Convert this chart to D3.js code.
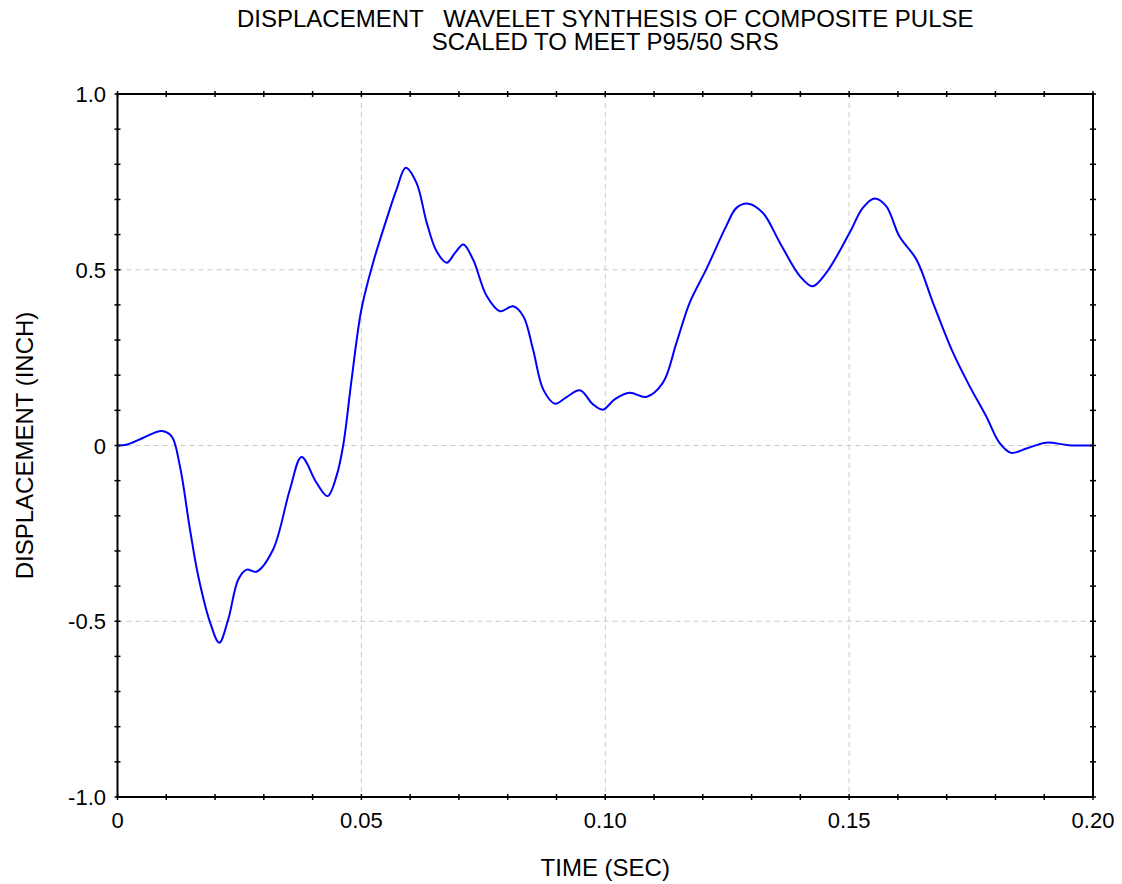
<!DOCTYPE html>
<html>
<head>
<meta charset="utf-8">
<script src="https://cdn.jsdelivr.net/npm/d3@7"></script>
<style>
  body { margin: 0; background: #fff; }
  text { font-family: "Liberation Sans", Arial, sans-serif; fill: #000; }
</style>
</head>
<body>
<div id="chart"></div>
<script>
// data
var timeSec = [0, 0.002, 0.0053, 0.00905, 0.0111, 0.0128, 0.01486, 0.01656, 0.019, 0.02086,
  0.0227, 0.02476, 0.02647, 0.0285, 0.0319, 0.03535, 0.03774, 0.0408, 0.04307, 0.0449,
  0.04627, 0.048, 0.050, 0.0524, 0.0558, 0.0572, 0.0591, 0.0613, 0.0634, 0.0654,
  0.0675, 0.0692, 0.0709, 0.0729, 0.0757, 0.0784, 0.0811, 0.0832, 0.0852, 0.0873,
  0.0897, 0.092, 0.0948, 0.0975, 0.0995, 0.102, 0.105, 0.1084, 0.1118, 0.1146,
  0.1173, 0.1207, 0.1248, 0.1269, 0.1293, 0.1323, 0.1358, 0.1399, 0.1425, 0.1453,
  0.1501, 0.1528, 0.1552, 0.1576, 0.1603, 0.1638, 0.1672, 0.1713, 0.1747, 0.1781,
  0.1808, 0.1832, 0.1865, 0.1904, 0.195, 0.2];
var dispInch = [0, 0.003, 0.022, 0.041, 0.026, -0.059, -0.239, -0.372, -0.504, -0.561,
  -0.495, -0.381, -0.353, -0.359, -0.296, -0.125, -0.033, -0.106, -0.144, -0.087,
  0, 0.188, 0.387, 0.52, 0.671, 0.728, 0.79, 0.747, 0.634, 0.553,
  0.52, 0.548, 0.572, 0.529, 0.425, 0.382, 0.396, 0.368, 0.273, 0.159,
  0.119, 0.137, 0.157, 0.117, 0.102, 0.132, 0.15, 0.138, 0.178, 0.292,
  0.406, 0.501, 0.624, 0.676, 0.688, 0.662, 0.577, 0.482, 0.453, 0.491,
  0.605, 0.676, 0.703, 0.681, 0.595, 0.529, 0.406, 0.264, 0.169, 0.083,
  0.008, -0.021, -0.008, 0.008, 0.001, 0];

var xMajor = [0, 0.05, 0.10, 0.15, 0.20];
var xMajorLabels = ["0", "0.05", "0.10", "0.15", "0.20"];
var yMajor = [-1.0, -0.5, 0, 0.5, 1.0];
var yMajorLabels = ["-1.0", "-0.5", "0", "0.5", "1.0"];
var xMinor = d3.range(0, 0.2001, 0.01);
var yMinor = d3.range(-1.0, 1.0001, 0.1);

var titleLines = ["DISPLACEMENT   WAVELET SYNTHESIS OF COMPOSITE PULSE", "SCALED TO MEET P95/50 SRS"];

var width = 1122, height = 884;
var plotLeft = 117.5, plotRight = 1093, plotTop = 94, plotBottom = 797;

var x = d3.scaleLinear().domain([0, 0.2]).range([plotLeft, plotRight]);
var y = d3.scaleLinear().domain([-1, 1]).range([plotBottom, plotTop]);

var svg = d3.select("#chart").append("svg")
  .attr("width", width)
  .attr("height", height);

// grid
var grid = svg.append("g")
  .attr("stroke", "#c8c8c8")
  .attr("stroke-width", 1)
  .attr("stroke-dasharray", "5,4");
grid.selectAll(".gx").data(xMajor.slice(1, -1)).enter().append("line")
  .attr("x1", function(d) { return x(d); }).attr("x2", function(d) { return x(d); })
  .attr("y1", plotTop).attr("y2", plotBottom);
grid.selectAll(".gy").data(yMajor.slice(1, -1)).enter().append("line")
  .attr("x1", plotLeft).attr("x2", plotRight)
  .attr("y1", function(d) { return y(d); }).attr("y2", function(d) { return y(d); });

// curve
var pts = timeSec.map(function(t, i) { return [t, dispInch[i]]; });
var line = d3.line()
  .x(function(d) { return x(d[0]); })
  .y(function(d) { return y(d[1]); })
  .curve(d3.curveCatmullRom.alpha(0.5));
svg.append("path")
  .datum(pts)
  .attr("fill", "none")
  .attr("stroke", "#0000ff")
  .attr("stroke-width", 2)
  .attr("d", line);

// frame
svg.append("rect")
  .attr("x", plotLeft).attr("y", plotTop)
  .attr("width", plotRight - plotLeft).attr("height", plotBottom - plotTop)
  .attr("fill", "none").attr("stroke", "#000").attr("stroke-width", 2);

// minor ticks on all four sides
var ticks = svg.append("g").attr("stroke", "#000").attr("stroke-width", 1.5);
[plotBottom, plotTop].forEach(function(yy) {
  ticks.selectAll(null).data(xMinor).enter().append("line")
    .attr("x1", function(d) { return x(d); }).attr("x2", function(d) { return x(d); })
    .attr("y1", yy - 3).attr("y2", yy + 3);
});
[plotLeft, plotRight].forEach(function(xx) {
  ticks.selectAll(null).data(yMinor).enter().append("line")
    .attr("x1", xx - 3).attr("x2", xx + 3)
    .attr("y1", function(d) { return y(d); }).attr("y2", function(d) { return y(d); });
});

// tick labels
svg.selectAll(".xl").data(xMajor).enter().append("text")
  .attr("x", function(d) { return x(d); })
  .attr("y", 828)
  .attr("text-anchor", "middle")
  .style("font-size", "22px")
  .text(function(d, i) { return xMajorLabels[i]; });
svg.selectAll(".yl").data(yMajor).enter().append("text")
  .attr("x", 106)
  .attr("y", function(d) { return y(d) + 8; })
  .attr("text-anchor", "end")
  .style("font-size", "22px")
  .text(function(d, i) { return yMajorLabels[i]; });

// axis titles
svg.append("text")
  .attr("x", (plotLeft + plotRight) / 2).attr("y", 876)
  .attr("text-anchor", "middle")
  .style("font-size", "24px")
  .text("TIME (SEC)");
svg.append("text")
  .attr("transform", "translate(33," + y(0) + ") rotate(-90)")
  .attr("text-anchor", "middle")
  .style("font-size", "24px")
  .text("DISPLACEMENT (INCH)");

// title
svg.selectAll(".title").data(titleLines).enter().append("text")
  .attr("x", (plotLeft + plotRight) / 2)
  .attr("y", function(d, i) { return 27 + i * 23; })
  .attr("text-anchor", "middle")
  .style("font-size", "24px")
  .style("white-space", "pre")
  .attr("xml:space", "preserve")
  .text(function(d) { return d; });
</script>
</body>
</html>
